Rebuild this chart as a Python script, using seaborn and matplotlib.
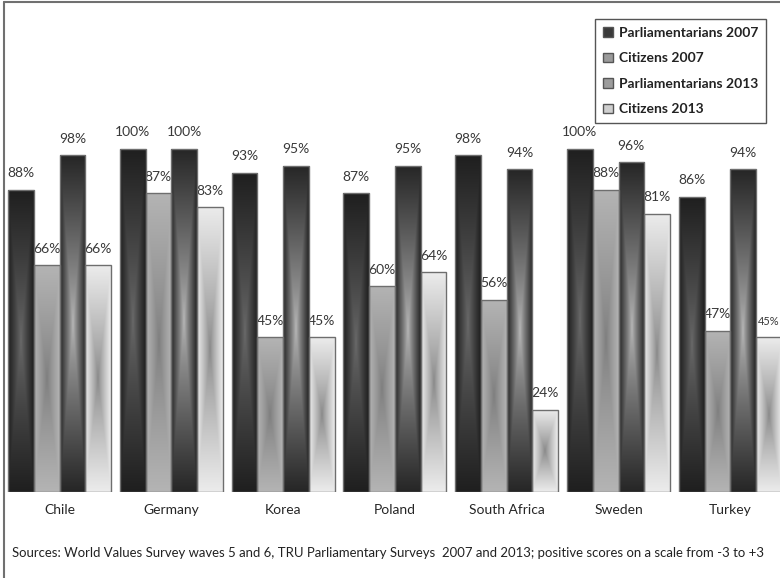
import numpy as np
import pandas as pd
import matplotlib
matplotlib.use("Agg")
import matplotlib.pyplot as plt
from matplotlib.patches import Patch
from matplotlib.lines import Line2D
import seaborn as sns

# ---- data -------------------------------------------------------------
countries = ["Chile", "Germany", "Korea", "Poland", "South Africa", "Sweden", "Turkey"]
series = ["Parliamentarians 2007", "Citizens 2007", "Parliamentarians 2013", "Citizens 2013"]
parl_2007 = [88, 100, 93, 87, 98, 100, 86]
citizens_2007 = [66, 87, 45, 60, 56, 88, 47]
parl_2013 = [98, 100, 95, 95, 94, 96, 94]
citizens_2013 = [66, 83, 45, 64, 24, 81, 45]
source_note = ("Sources: World Values Survey waves 5 and 6, TRU Parliamentary Surveys  "
               "2007 and 2013; positive scores on a scale from -3 to +3")

values = [parl_2007, citizens_2007, parl_2013, citizens_2013]
df = pd.DataFrame(
    [(c, s, v) for s, vals in zip(series, values) for c, v in zip(countries, vals)],
    columns=["country", "series", "value"],
)

# ---- styling ----------------------------------------------------------
sns.set_theme(style="white")
plt.rcParams["font.family"] = ["Lato", "DejaVu Sans"]

# (edge colour, centre colour) of the rectangular "from centre" gradients
gradients = {
    "Parliamentarians 2007": ("#1f1f1f", "#6a6a6a"),
    "Citizens 2007": ("#b4b4b4", "#7e7e7e"),
    "Parliamentarians 2013": ("#262626", "#b8b8b8"),
    "Citizens 2013": ("#ececec", "#888888"),
}
legend_fill = ["#3a3a3a", "#9a9a9a", "#9c9c9c", "#cfcfcf"]
text_color = "#383838"

W, H = 780, 578
fig = plt.figure(figsize=(W / 100, H / 100), dpi=100)
base_px = 492                       # baseline of the bars, from top
ax = fig.add_axes([0, (H - base_px) / H, 1, base_px / H])

ax = sns.barplot(
    data=df, x="country", y="value", hue="series",
    order=countries, hue_order=series,
    palette=["#444444"] * 4, saturation=1,
    width=0.921, gap=0, legend=False, ax=ax,
    edgecolor="#6e6e6e", linewidth=1.0,
)


def to_rgb(c):
    return np.array(matplotlib.colors.to_rgb(c))


def gradient_image(edge, centre, nx=60, ny=300, power=0.85):
    u = np.linspace(-1, 1, nx)
    v = np.linspace(-1, 1, ny)
    U, V = np.meshgrid(u, v)
    t = np.maximum(np.abs(U), np.abs(V)) ** power
    e, c = to_rgb(edge), to_rgb(centre)
    return c[None, None, :] + (e - c)[None, None, :] * t[..., None]


value_labels = []
for s_idx, container in enumerate(ax.containers):
    edge, centre = gradients[series[s_idx]]
    img = gradient_image(edge, centre)
    for c_idx, bar in enumerate(container):
        x0, w, h = bar.get_x(), bar.get_width(), bar.get_height()
        bar.set_facecolor("none")
        bar.set_zorder(3)
        im = ax.imshow(img, extent=[x0, x0 + w, 0, h], origin="lower",
                       aspect="auto", interpolation="bilinear", zorder=2.5)
        im.set_clip_path(bar)
        lbl = ax.annotate(f"{values[s_idx][c_idx]}%", (x0 + w / 2, h),
                          xytext=(0, 7.5), textcoords="offset points",
                          ha="center", va="bottom", fontsize=10,
                          color=text_color, zorder=1)
        value_labels.append(lbl)

px_per_group = 111.8
ax.set_xlim(-59.5 / px_per_group, (W - 59.5) / px_per_group)
ax.set_ylim(0, (base_px - 2) / 3.42)
sns.despine(ax=ax, left=True, bottom=True)
ax.set_yticks([])
ax.set_xlabel("")
ax.set_ylabel("")
ax.tick_params(axis="x", length=0, pad=9, labelsize=10, labelcolor="#262626")
ax.patch.set_alpha(0)

# legend box
handles = [Patch(facecolor=fc, edgecolor="#555555", linewidth=1.0) for fc in legend_fill]
leg = ax.legend(
    handles, series, loc="upper right",
    bbox_to_anchor=(766 / W, 1 - 19 / H), bbox_transform=fig.transFigure,
    frameon=True, fancybox=False, framealpha=1, edgecolor="#555555",
    borderaxespad=0, borderpad=0.55, labelspacing=0.98,
    handlelength=0.7, handleheight=0.7, handletextpad=0.45,
    prop={"weight": "bold", "size": 10},
)
leg.get_frame().set_linewidth(1.0)
for t in leg.get_texts():
    t.set_color("#222222")

# source note, fitted to its line width
note = fig.text(12 / W, (H - 553) / H, source_note, ha="left", va="center",
                fontsize=10, color="#222222")
fig.canvas.draw()
width_px = note.get_window_extent().width
note.set_fontsize(10 * 753 / width_px)

# a label running past the right edge is set slightly smaller so it fits
fig.canvas.draw()
for lbl in value_labels:
    ext = lbl.get_window_extent()
    if ext.x1 > W:
        centre_x = (ext.x0 + ext.x1) / 2
        lbl.set_fontsize(10 * (2 * (W - centre_x) - 0.5) / ext.width)

# outer frame on the left and top
fig.add_artist(Line2D([4 / W, 4 / W], [0, 1 - 2 / H], color="#707070", lw=1.5))
fig.add_artist(Line2D([4 / W, 1], [1 - 2 / H, 1 - 2 / H], color="#707070", lw=1.5))

fig.savefig("out.png", dpi=100)
